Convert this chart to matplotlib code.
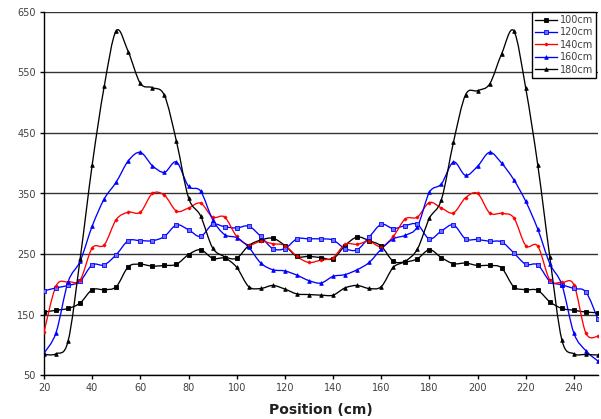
import matplotlib
matplotlib.use("Agg")
import matplotlib.pyplot as plt
from matplotlib.path import Path
from matplotlib.patches import PathPatch
from matplotlib.lines import Line2D
import numpy as np

positions = [20, 25, 30, 35, 40, 45, 50, 55, 60, 65, 70, 75, 80, 85, 90, 95,
             100, 105, 110, 115, 120, 125, 130, 135, 140, 145, 150, 155, 160,
             165, 170, 175, 180, 185, 190, 195, 200, 205, 210, 215, 220, 225,
             230, 235, 240, 245, 250]

s100 = [154, 157, 160, 169, 191, 191, 196, 229, 233, 230,
        231, 233, 249, 257, 243, 244, 243, 264, 273, 276,
        264, 246, 246, 244, 242, 264, 278, 272, 263, 238,
        237, 242, 257, 244, 234, 235, 231, 231, 227, 196,
        191, 190, 171, 160, 157, 154, 153]
s120 = [189, 194, 198, 205, 232, 232, 249, 272, 272, 272,
        279, 298, 290, 279, 299, 295, 293, 296, 279, 259,
        259, 275, 275, 275, 273, 259, 257, 278, 299, 292,
        297, 299, 275, 288, 298, 275, 274, 271, 270, 252,
        233, 232, 205, 199, 193, 187, 142]
s140 = [121, 197, 204, 207, 260, 265, 307, 319, 319, 350,
        347, 321, 326, 334, 311, 311, 279, 265, 271, 267,
        264, 246, 236, 240, 244, 266, 266, 271, 262, 279,
        308, 311, 335, 326, 318, 343, 350, 318, 317, 310,
        264, 263, 207, 203, 199, 119, 114]
s160 = [86, 120, 204, 238, 296, 341, 369, 404, 418, 396,
        385, 402, 362, 354, 307, 282, 277, 261, 235, 224,
        222, 215, 206, 202, 213, 216, 224, 236, 258, 275,
        281, 295, 352, 366, 402, 380, 395, 418, 400, 373,
        337, 291, 234, 199, 119, 90, 73]
s180 = [84, 85, 106, 242, 397, 527, 619, 584, 532, 525,
        512, 436, 343, 313, 260, 245, 228, 196, 193, 198,
        192, 184, 183, 182, 182, 194, 198, 193, 196, 228,
        238, 258, 309, 340, 435, 513, 520, 531, 581, 619,
        524, 397, 245, 108, 85, 84, 83]

labels = ["100cm", "120cm", "140cm", "160cm", "180cm"]
series = [s100, s120, s140, s160, s180]
colors = ["#000000", "#0000FF", "#FF0000", "#0000FF", "#000000"]
markers = ["s", "s", "D", "^", "^"]
msizes = [3.2, 2.8, 1.6, 2.6, 2.6]
mfaces = ["#000000", "#7070FF", "#FF0000", "#0000FF", "#000000"]

y_ticks = [50, 150, 250, 350, 450, 550, 650]
x_ticks = [20, 40, 60, 80, 100, 120, 140, 160, 180, 200, 220, 240]


def smooth_path(xs, ys):
    p = np.column_stack([xs, ys]).astype(float)
    n = len(p)
    verts = [p[0]]
    codes = [Path.MOVETO]
    for i in range(n - 1):
        p0 = p[i - 1] if i > 0 else p[i]
        p1 = p[i]
        p2 = p[i + 1]
        p3 = p[i + 2] if i + 2 < n else p[i + 1]
        c1 = p1 + (p2 - p0) / 6.0
        c2 = p2 - (p3 - p1) / 6.0
        verts += [c1, c2, p2]
        codes += [Path.CURVE4] * 3
    return Path(verts, codes)


fig = plt.figure(figsize=(6.01, 4.19), dpi=100)
ax = fig.add_axes([44 / 601, 1 - 375 / 419, (598 - 44) / 601, (375 - 12) / 419])

for yt in y_ticks:
    ax.axhline(yt, color="#333333", lw=1.0, zorder=1)

handles = []
for lab, s, c, m, ms, mf in zip(labels, series, colors, markers, msizes, mfaces):
    patch = PathPatch(smooth_path(positions, s), facecolor="none", edgecolor=c,
                      lw=0.95, zorder=3)
    ax.add_patch(patch)
    ax.plot(positions, s, linestyle="none", marker=m, markersize=ms,
            markerfacecolor=mf, markeredgecolor=c, markeredgewidth=0.6, zorder=4)
    handles.append(Line2D([], [], color=c, lw=0.95, marker=m, markersize=ms,
                          markerfacecolor=mf, markeredgecolor=c,
                          markeredgewidth=0.6, label=lab))

ax.set_xlim(20, 250)
ax.set_ylim(50, 650)
ax.set_xticks(x_ticks)
ax.set_yticks(y_ticks)
ax.tick_params(axis="both", direction="out", length=3, width=1, color="#000000",
               labelsize=7, labelcolor="#404040", pad=3)
for side in ["top", "right"]:
    ax.spines[side].set_visible(False)
for side in ["left", "bottom"]:
    ax.spines[side].set_color("#000000")
    ax.spines[side].set_linewidth(1.0)
ax.set_xlabel("Position (cm)", fontsize=10, fontweight="bold", color="#202020",
              labelpad=7)

leg = ax.legend(handles=handles, loc="upper right",
                bbox_to_anchor=(596 / 601, 1 - 12 / 419),
                bbox_transform=fig.transFigure, fontsize=7, frameon=True,
                fancybox=False, framealpha=1, edgecolor="#000000",
                handlelength=2.2, handletextpad=0.3, borderpad=0.3,
                labelspacing=0.25, borderaxespad=0)
leg.get_frame().set_linewidth(1.0)
for t in leg.get_texts():
    t.set_color("#404040")
leg.set_zorder(10)

fig.savefig("out.png", dpi=100)
